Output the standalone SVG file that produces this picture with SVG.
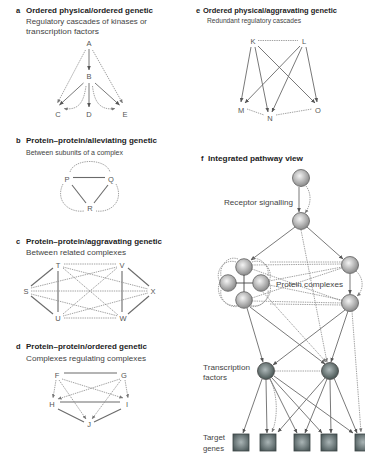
<svg xmlns="http://www.w3.org/2000/svg" width="365" height="455" viewBox="0 0 365 455">
<style>
.t{font-family:"Liberation Sans",Arial,sans-serif;font-size:7.5px;font-weight:bold;fill:#222}
.s{font-family:"Liberation Sans",Arial,sans-serif;font-size:7.3px;fill:#444}
.n{font-family:"Liberation Sans",Arial,sans-serif;font-size:7.5px;fill:#555;text-anchor:middle}
.sl{stroke:#6a6a6a;stroke-width:1.1;fill:none}
.sa{stroke:#6a6a6a;stroke-width:0.9;fill:none;marker-end:url(#ah)}
.dl{stroke:#8a8a8a;stroke-width:0.8;stroke-dasharray:1.4 0.9;fill:none}
.da{stroke:#8a8a8a;stroke-width:0.8;stroke-dasharray:1.4 0.9;fill:none;marker-end:url(#ahd)}
.sp{fill:url(#gs);stroke:#5e5e5e;stroke-width:0.8}
.tf{fill:url(#gt);stroke:#444;stroke-width:0.8}
.ge{fill:url(#gg);stroke:#3a4444;stroke-width:0.8}
</style>
<defs>
<marker id="ah" viewBox="0 0 6 6" refX="5.5" refY="3" markerWidth="4.5" markerHeight="4.5" markerUnits="userSpaceOnUse" orient="auto"><path d="M0,0.5 L6,3 L0,5.5z" fill="#555"/></marker>
<marker id="ahd" viewBox="0 0 6 6" refX="5.5" refY="3" markerWidth="4" markerHeight="4" markerUnits="userSpaceOnUse" orient="auto"><path d="M0,0.5 L6,3 L0,5.5z" fill="#777"/></marker>
<radialGradient id="gs" cx="0.42" cy="0.38" r="0.62"><stop offset="0" stop-color="#f4f4f4"/><stop offset="1" stop-color="#8a8a8a"/></radialGradient>
<radialGradient id="gt" cx="0.45" cy="0.42" r="0.6"><stop offset="0" stop-color="#b0babb"/><stop offset="1" stop-color="#44514f"/></radialGradient>
<radialGradient id="gg" cx="0.5" cy="0.48" r="0.62"><stop offset="0" stop-color="#aab5b6"/><stop offset="1" stop-color="#4b5859"/></radialGradient>
</defs>

<g id="titles">
<text class="t" x="16" y="12.5">a</text>
<text class="t" x="26" y="12.5" textLength="127" lengthAdjust="spacingAndGlyphs">Ordered physical/ordered genetic</text>
<text class="s" x="26" y="24" textLength="121" lengthAdjust="spacingAndGlyphs">Regulatory cascades of kinases or</text>
<text class="s" x="26" y="34" textLength="73" lengthAdjust="spacingAndGlyphs">transcription factors</text>
<text class="t" x="16" y="143">b</text>
<text class="t" x="26" y="143" textLength="131" lengthAdjust="spacingAndGlyphs">Protein–protein/alleviating genetic</text>
<text class="s" x="26" y="155" textLength="97" lengthAdjust="spacingAndGlyphs">Between subunits of a complex</text>
<text class="t" x="16" y="243.5">c</text>
<text class="t" x="26" y="243.5" textLength="136" lengthAdjust="spacingAndGlyphs">Protein–protein/aggravating genetic</text>
<text class="s" x="26" y="255" textLength="100" lengthAdjust="spacingAndGlyphs">Between related complexes</text>
<text class="t" x="16" y="348.5">d</text>
<text class="t" x="26" y="348.5" textLength="121" lengthAdjust="spacingAndGlyphs">Protein–protein/ordered genetic</text>
<text class="s" x="26" y="361" textLength="120" lengthAdjust="spacingAndGlyphs">Complexes regulating complexes</text>
<text class="t" x="196" y="12.5">e</text>
<text class="t" x="203" y="12.5" textLength="134" lengthAdjust="spacingAndGlyphs">Ordered physical/aggravating genetic</text>
<text class="s" x="207" y="23" textLength="94" lengthAdjust="spacingAndGlyphs">Redundant regulatory cascades</text>
<text class="t" x="201" y="161">f</text>
<text class="t" x="208" y="161" textLength="95" lengthAdjust="spacingAndGlyphs">Integrated pathway view</text>
</g>

<g id="connectors-a">
<line class="sa" x1="89" y1="49" x2="89" y2="70"/>
<line class="da" x1="85.5" y1="50" x2="57.5" y2="103"/>
<line class="da" x1="92.5" y1="50" x2="122.5" y2="103"/>
<line class="sa" x1="83.5" y1="83" x2="59.5" y2="105"/>
<line class="sa" x1="89" y1="83" x2="89" y2="107"/>
<line class="sa" x1="95" y1="83" x2="119.5" y2="105"/>
<path class="da" d="M86,86 C84,100 80,111 64,108.5"/>
<path class="da" d="M92.5,86 C94,100 99,111 115,108.5"/>
</g>
<g id="a-nodes">
<text id="nA" class="n" x="89" y="46">A</text>
<text id="nB" class="n" x="89" y="79">B</text>
<text id="nC" class="n" x="58" y="117">C</text>
<text id="nD" class="n" x="89" y="117">D</text>
<text id="nE" class="n" x="125" y="117">E</text>
</g>

<g id="connectors-b">
<line class="sl" x1="73" y1="177.5" x2="105" y2="177.5"/>
<line class="sl" x1="72" y1="185" x2="86" y2="203"/>
<line class="sl" x1="108" y1="185" x2="94" y2="203"/>
<path class="dl" d="M70,172 C74,158 106,158 110,172"/>
<path class="dl" d="M63,184 C55,200 68,213 84,211"/>
<path class="dl" d="M116,184 C124,200 112,213 96,211"/>
</g>
<g id="b-nodes">
<text id="nP" class="n" x="67" y="182">P</text>
<text id="nQ" class="n" x="111" y="182">Q</text>
<text id="nR" class="n" x="90" y="211">R</text>
</g>

<g id="connectors-c">
<line class="sl" x1="31" y1="286" x2="53" y2="268"/>
<line class="sl" x1="31" y1="296" x2="53" y2="314"/>
<line class="sl" x1="58" y1="271" x2="58" y2="312"/>
<line class="sl" x1="122" y1="271" x2="122" y2="312"/>
<line class="sl" x1="128" y1="268" x2="149" y2="286"/>
<line class="sl" x1="128" y1="314" x2="149" y2="296"/>
<line class="dl" x1="64" y1="264" x2="116" y2="264"/>
<line class="dl" x1="64" y1="318" x2="117" y2="318"/>
<line class="dl" x1="31" y1="291" x2="148" y2="291"/>
<line class="dl" x1="63" y1="268" x2="118" y2="315"/>
<line class="dl" x1="63" y1="314" x2="117" y2="268"/>
<line class="dl" x1="31" y1="288" x2="117" y2="267"/>
<line class="dl" x1="31" y1="294" x2="118" y2="316"/>
<line class="dl" x1="63" y1="267" x2="148" y2="289"/>
<line class="dl" x1="63" y1="316" x2="148" y2="293"/>
</g>
<g id="c-nodes">
<text id="nT" class="n" x="58" y="268">T</text>
<text id="nV" class="n" x="122" y="268">V</text>
<text id="nS" class="n" x="26" y="294">S</text>
<text id="nX" class="n" x="153" y="294">X</text>
<text id="nU" class="n" x="58" y="320.5">U</text>
<text id="nW" class="n" x="123" y="320.5">W</text>
</g>

<g id="connectors-d">
<line class="sl" x1="64" y1="373" x2="117" y2="373"/>
<line class="sl" x1="60" y1="402" x2="120" y2="402"/>
<line class="sl" x1="58" y1="409" x2="84" y2="422"/>
<line class="sl" x1="121" y1="409" x2="94" y2="422"/>
<line class="da" x1="56" y1="380" x2="53" y2="398"/>
<line class="da" x1="62" y1="379" x2="123" y2="398"/>
<line class="da" x1="59" y1="380" x2="86" y2="419"/>
<line class="da" x1="120" y1="379" x2="58" y2="399"/>
<line class="da" x1="125" y1="380" x2="128" y2="398"/>
<line class="da" x1="121" y1="380" x2="92" y2="419"/>
</g>
<g id="d-nodes">
<text id="nF" class="n" x="57" y="378">F</text>
<text id="nG" class="n" x="124" y="378">G</text>
<text id="nH" class="n" x="52" y="407">H</text>
<text id="nI" class="n" x="127" y="407">I</text>
<text id="nJ" class="n" x="89" y="427">J</text>
</g>

<g id="connectors-e">
<line class="dl" x1="258" y1="40.5" x2="298" y2="40.5"/>
<line class="dl" x1="247" y1="109" x2="264" y2="115"/>
<line class="dl" x1="276" y1="115" x2="312" y2="109"/>
<line class="sa" x1="251" y1="47" x2="241" y2="102"/>
<line class="sa" x1="255" y1="47" x2="268" y2="112"/>
<line class="sa" x1="258" y1="46" x2="315" y2="103"/>
<line class="sa" x1="300" y1="46" x2="245" y2="103"/>
<line class="sa" x1="302" y1="47" x2="272" y2="112"/>
<line class="sa" x1="306" y1="47" x2="317" y2="102"/>
</g>
<g id="e-nodes">
<text id="nK" class="n" x="253" y="44">K</text>
<text id="nL" class="n" x="304" y="44">L</text>
<text id="nM" class="n" x="241" y="113">M</text>
<text id="nN" class="n" x="270" y="121">N</text>
<text id="nO" class="n" x="318" y="113">O</text>
</g>

<g id="connectors-f">
<line class="sa" x1="299" y1="187" x2="299" y2="212"/>
<path class="da" d="M306,186 C312,194 311,205 305,213"/>
<line class="sa" x1="295" y1="227" x2="251" y2="260"/>
<line class="sa" x1="307" y1="227" x2="343" y2="259"/>
<line class="da" x1="301" y1="230" x2="327" y2="362"/>
<path class="dl" d="M238,259 C228,255 219,266 221,276"/>
<path class="dl" d="M221,290 C219,300 229,308 238,305"/>
<path class="dl" d="M251,305 C260,309 270,299 268,290"/>
<path class="dl" d="M268,276 C270,266 260,256 251,259"/>
<path class="dl" d="M236,262 C224,258 214,272 220,282 C214,294 226,310 240,306"/>
<path class="dl" d="M252,262 C264,258 274,270 269,282 C275,294 262,310 249,306"/>
<line class="dl" x1="252" y1="265" x2="342" y2="264"/>
<line class="dl" x1="252" y1="269" x2="342" y2="301"/>
<line class="dl" x1="269" y1="281" x2="342" y2="267"/>
<line class="dl" x1="269" y1="285" x2="342" y2="300"/>
<line class="dl" x1="252" y1="298" x2="342" y2="268"/>
<line class="dl" x1="252" y1="301" x2="342" y2="303"/>
<line class="dl" x1="270" y1="262" x2="342" y2="262"/>
<line class="dl" x1="270" y1="304" x2="342" y2="305"/>
<line class="sa" x1="350" y1="274" x2="350" y2="294"/>
<path class="da" d="M356,271 C364,278 364,290 357,296"/>
<line class="da" x1="261" y1="290" x2="326" y2="362"/>
<line class="sa" x1="247" y1="308" x2="263" y2="362"/>
<line class="sa" x1="250" y1="307" x2="325" y2="364"/>
<line class="sa" x1="345" y1="310" x2="273" y2="365"/>
<line class="sa" x1="348" y1="311" x2="331" y2="362"/>
<line class="da" x1="352" y1="311" x2="361" y2="432"/>
<line class="dl" x1="275" y1="371" x2="321" y2="371"/>
<line class="sa" x1="262" y1="379" x2="243" y2="433"/>
<line class="sa" x1="266" y1="380" x2="267" y2="433"/>
<path class="da" d="M270,379 C278,395 278,418 272,432"/>
<line class="sa" x1="270" y1="379" x2="297" y2="433"/>
<line class="sa" x1="272" y1="378" x2="322" y2="433"/>
<line class="sa" x1="274" y1="376" x2="353" y2="433"/>
<line class="sa" x1="325" y1="378" x2="278" y2="432"/>
<line class="sa" x1="327" y1="379" x2="305" y2="433"/>
<line class="sa" x1="330" y1="380" x2="331" y2="433"/>
<line class="sa" x1="334" y1="378" x2="357" y2="433"/>
</g>

<g id="f-receptor">
<circle class="sp" cx="301" cy="178" r="8.5"/>
<text class="s" x="224" y="205" textLength="69" lengthAdjust="spacingAndGlyphs">Receptor signalling</text>
</g>
<g id="f-node2"><circle class="sp" cx="301" cy="221" r="8.5"/></g>
<g id="f-complex-left">
<circle class="sp" cx="244" cy="267" r="8.3"/>
<circle class="sp" cx="228" cy="283" r="8.3"/>
<circle class="sp" cx="261" cy="283" r="8.3"/>
<circle class="sp" cx="244" cy="300" r="8.3"/>
<line x1="244" y1="275" x2="244" y2="291.7" stroke="#444" stroke-width="0.9"/>
<line x1="236" y1="283" x2="252.7" y2="283" stroke="#444" stroke-width="0.9"/>
</g>
<g id="f-complex-right">
<circle class="sp" cx="350" cy="265" r="8.5"/>
<circle class="sp" cx="350" cy="303" r="8.5"/>
</g>
<text id="f-complex-label" class="s" x="276" y="287" textLength="67" lengthAdjust="spacingAndGlyphs">Protein complexes</text>
<g id="f-tfs">
<circle class="tf" cx="266" cy="371" r="8.5"/>
<circle class="tf" cx="330" cy="371" r="8.5"/>
<text class="s" x="203" y="370" textLength="47" lengthAdjust="spacingAndGlyphs">Transcription</text>
<text class="s" x="203" y="380" textLength="24" lengthAdjust="spacingAndGlyphs">factors</text>
</g>
<g id="f-genes">
<rect class="ge" x="233" y="434" width="16" height="17"/>
<rect class="ge" x="260" y="434" width="16" height="17"/>
<rect class="ge" x="294" y="434" width="16" height="17"/>
<rect class="ge" x="321" y="434" width="16" height="17"/>
<rect class="ge" x="355" y="434" width="16" height="17"/>
<text class="s" x="203" y="440" textLength="22" lengthAdjust="spacingAndGlyphs">Target</text>
<text class="s" x="203" y="451" textLength="21" lengthAdjust="spacingAndGlyphs">genes</text>
</g>
</svg>
